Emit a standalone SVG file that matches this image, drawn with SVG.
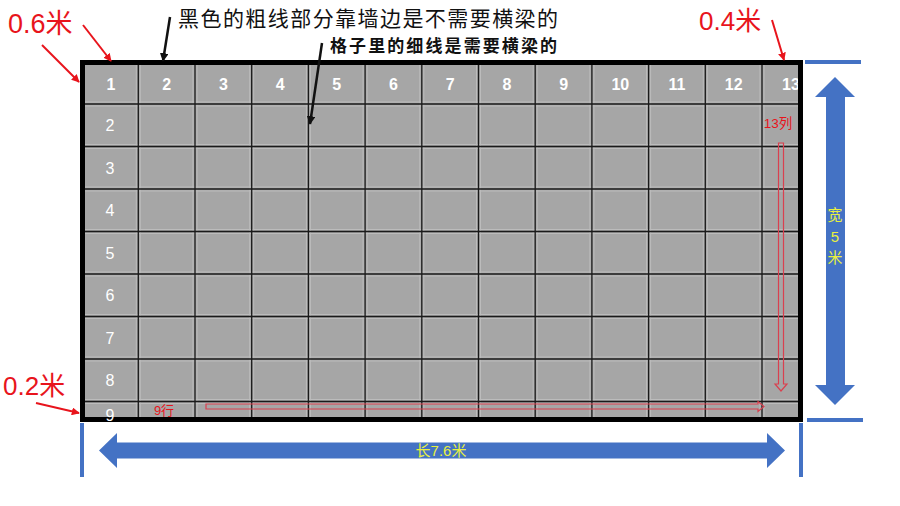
<svg xmlns="http://www.w3.org/2000/svg" width="900" height="506" viewBox="0 0 900 506">
<style>
.hdr{font-family:"Liberation Sans",Arial,sans-serif;font-size:16px;font-weight:bold;fill:#fff;text-anchor:middle}
.rowl{font-family:"Liberation Sans",Arial,sans-serif;font-size:16px;fill:#fff;text-anchor:middle}
.gl{stroke:#1a1a1a;stroke-width:1.3}
.gll{stroke:#bcbcbc;stroke-width:1}
.red{font-family:"Liberation Sans","Noto Sans CJK SC",sans-serif;fill:#e8141c}
.blk{font-family:"Liberation Sans","Noto Sans CJK SC",sans-serif;fill:#111}
.yel{font-family:"Liberation Sans","Noto Sans CJK SC",sans-serif;fill:#e8f040;font-size:15px;text-anchor:middle}
.blue{fill:#4472c4}
.bline{stroke:#4472c4;stroke-width:4}
.rarr{stroke:#e8141c;stroke-width:2;fill:none}
.barr{stroke:#111;stroke-width:2.5;fill:none}
.hollow{fill:none;stroke:#d9404f;stroke-width:1.2}
</style>
<defs>
<clipPath id="inner"><rect x="85" y="65" width="713" height="352"/></clipPath>
<marker id="mr" viewBox="0 0 10 10" refX="9" refY="5" markerWidth="4" markerHeight="4" orient="auto"><path d="M0,0 L10,5 L0,10 z" fill="#e8141c"/></marker>
<marker id="mb" viewBox="0 0 10 10" refX="9" refY="5" markerWidth="3.5" markerHeight="3.5" orient="auto"><path d="M0,0 L10,5 L0,10 z" fill="#111"/></marker>
</defs>
<g id="grid">
<rect x="82.5" y="62.5" width="718" height="357" fill="#a6a6a6"/>
<g clip-path="url(#inner)">
<g id="gridlines-light">
<path class="gll" d="M136.3,64V418M140.3,64V418M193,64V418M197,64V418M249.7,64V418M253.7,64V418M306.4,64V418M310.4,64V418M363.1,64V418M367.1,64V418M419.8,64V418M423.8,64V418M476.5,64V418M480.5,64V418M533.2,64V418M537.2,64V418M589.9,64V418M593.9,64V418M646.6,64V418M650.6,64V418M703.3,64V418M707.3,64V418M760,64V418M764,64V418"/>
<path class="gll" d="M84,102H800M84,106H800M84,144.5H800M84,148.5H800M84,187H800M84,191H800M84,229.5H800M84,233.5H800M84,272H800M84,276H800M84,314.5H800M84,318.5H800M84,357H800M84,361H800M84,399.5H800M84,403.5H800"/>
</g>
<g id="gridlines">
<path class="gl" d="M138.3,64V418M195,64V418M251.7,64V418M308.4,64V418M365.1,64V418M421.8,64V418M478.5,64V418M535.2,64V418M591.9,64V418M648.6,64V418M705.3,64V418M762,64V418"/>
<path class="gl" d="M84,104H800M84,146.5H800M84,189H800M84,231.5H800M84,274H800M84,316.5H800M84,359H800M84,401.5H800"/>
</g>
<g id="header">
<text class="hdr" x="111" y="90">1</text>
<text class="hdr" x="166.7" y="90">2</text>
<text class="hdr" x="223.4" y="90">3</text>
<text class="hdr" x="280.1" y="90">4</text>
<text class="hdr" x="336.8" y="90">5</text>
<text class="hdr" x="393.5" y="90">6</text>
<text class="hdr" x="450.2" y="90">7</text>
<text class="hdr" x="506.9" y="90">8</text>
<text class="hdr" x="563.6" y="90">9</text>
<text class="hdr" x="620.3" y="90">10</text>
<text class="hdr" x="677" y="90">11</text>
<text class="hdr" x="733.7" y="90">12</text>
<text class="hdr" x="791" y="90">13</text>
</g>
<g id="rowlabels">
<text class="rowl" x="110" y="131">2</text>
<text class="rowl" x="110" y="174">3</text>
<text class="rowl" x="110" y="216">4</text>
<text class="rowl" x="110" y="259">5</text>
<text class="rowl" x="110" y="301">6</text>
<text class="rowl" x="110" y="344">7</text>
<text class="rowl" x="110" y="386">8</text>
</g>
</g>
<rect x="82.5" y="62.5" width="718" height="357" fill="none" stroke="#000" stroke-width="5"/>
<text class="rowl" x="110" y="421" font-size="15">9</text>
</g>
<g id="col-arrow">
<text class="red" x="778" y="128" font-size="13.5" text-anchor="middle">13列</text>
<path class="hollow" d="M778.5,143 H783.5 V384 H787 L781,391 L775,384 H778.5 Z"/>
</g>
<g id="row-arrow">
<text class="red" x="164" y="415" font-size="13" text-anchor="middle">9行</text>
<path class="hollow" d="M206,404 H758 V401.5 L764,406.5 L758,411.5 V409 H206 Z"/>
</g>
<g id="annotations">
<text class="red" x="8" y="33" font-size="27">0.6米</text>
<text class="red" x="699" y="30" font-size="26">0.4米</text>
<text class="red" x="3" y="395" font-size="26">0.2米</text>
<text class="blk" x="178" y="26" font-size="21" textLength="380" lengthAdjust="spacing">黑色的粗线部分靠墙边是不需要横梁的</text>
<text class="blk" x="330" y="52" font-size="17" font-weight="bold" textLength="227" lengthAdjust="spacing">格子里的细线是需要横梁的</text>
</g>
<g id="connectors">
<path class="rarr" d="M42,45 L79,82" marker-end="url(#mr)"/>
<path class="rarr" d="M83,25 L111,61" marker-end="url(#mr)"/>
<path class="rarr" d="M772,20 L784,60" marker-end="url(#mr)"/>
<path class="rarr" d="M36,403 L79,413" marker-end="url(#mr)"/>
<path class="barr" d="M170,17 L163,61" marker-end="url(#mb)"/>
<path class="barr" d="M322,43 L310,124" marker-end="url(#mb)"/>
</g>
<g id="dimensions">
<path class="bline" d="M805,62H861M807,420H863M82,423V477M801,423V477"/>
<path class="blue" d="M835,77 L855,97 L845,97 L845,385 L855,385 L835,405 L815,385 L826,385 L826,97 L815,97 Z"/>
<path class="blue" d="M99,450.5 L117,433 L117,442.5 L767,442.5 L767,433 L785,450.5 L767,468 L767,458.5 L117,458.5 L117,468 Z"/>
<text class="yel" x="441" y="456">长7.6米</text>
<text class="yel" x="835" y="220">宽</text>
<text class="yel" x="835" y="242">5</text>
<text class="yel" x="835" y="263">米</text>
</g>
</svg>
